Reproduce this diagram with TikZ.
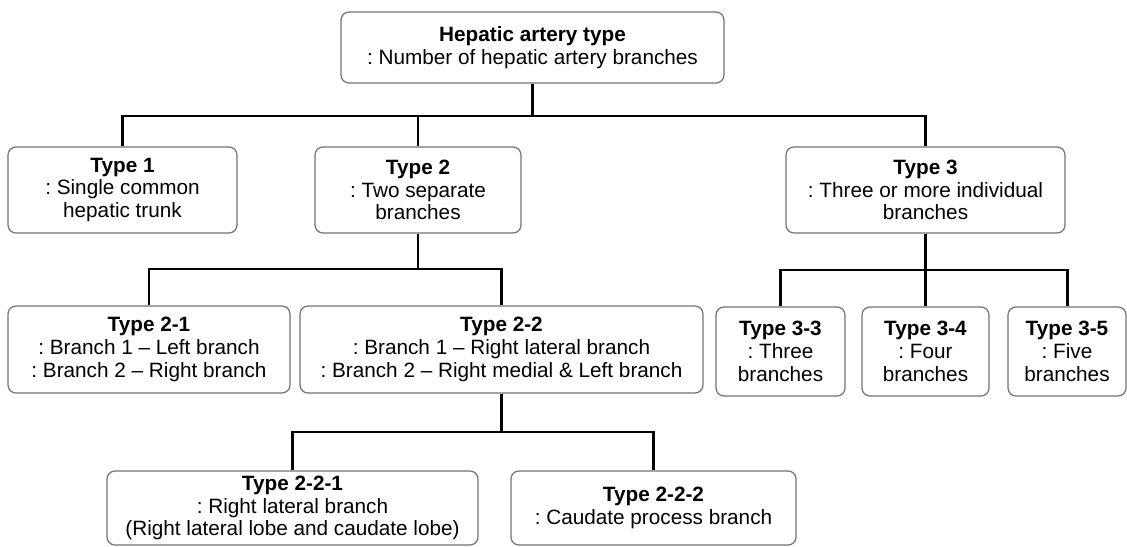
\documentclass[tikz,border=0pt]{standalone}
\usepackage{fontspec}
\setmainfont{Liberation Sans}
\frenchspacing
\usetikzlibrary{positioning}
\tikzset{
  tbox/.style={draw=black!55, line width=0.7pt, rectangle, rounded corners=4.5pt, align=center, font=\fontsize{11.8pt}{13pt}\selectfont, inner sep=2pt, fill=white},
  link/.style={line width=1.7pt, black},
}

\begin{document}
\begin{tikzpicture}[x=0.02cm, y=-0.02cm]
\useasboundingbox (0,0) rectangle (1127,547);
\node[tbox, minimum width=7.66cm, minimum height=1.42cm] (top) at (532.5,47.5) {\textbf{Hepatic artery type}\\: Number of hepatic artery branches};
\node[tbox, minimum width=4.58cm, minimum height=1.72cm] (t1) at (122.5,190) {\textbf{Type 1}\\: Single common\\hepatic trunk};
\node[tbox, minimum width=4.12cm, minimum height=1.72cm] (t2) at (418,190) {\textbf{Type 2}\\: Two separate\\branches};
\node[tbox, minimum width=5.58cm, minimum height=1.72cm] (t3) at (925.5,190) {\textbf{Type 3}\\: Three or more individual\\branches};
\node[tbox, minimum width=5.64cm, minimum height=1.74cm] (t21) at (149,349.5) {\textbf{Type 2-1}\\: Branch 1 -- Left branch\\: Branch 2 -- Right branch};
\node[tbox, minimum width=8.06cm, minimum height=1.74cm] (t22) at (501.5,349.5) {\textbf{Type 2-2}\\: Branch 1 -- Right lateral branch\\: Branch 2 -- Right medial \& Left branch};
\node[tbox, minimum width=2.58cm, minimum height=1.78cm] (t33) at (780.5,351.5) {\textbf{Type 3-3}\\: Three\\branches};
\node[tbox, minimum width=2.54cm, minimum height=1.78cm] (t34) at (925.5,351.5) {\textbf{Type 3-4}\\: Four\\branches};
\node[tbox, minimum width=2.36cm, minimum height=1.78cm] (t35) at (1067,351.5) {\textbf{Type 3-5}\\: Five\\branches};
\node[tbox, minimum width=7.42cm, minimum height=1.48cm] (t221) at (292.5,508) {\textbf{Type 2-2-1}\\: Right lateral branch\\(Right lateral lobe and caudate lobe)};
\node[tbox, minimum width=5.7cm, minimum height=1.48cm] (t222) at (653.5,508) {\textbf{Type 2-2-2}\\: Caudate process branch};
\coordinate (j0) at (top.south |- 0,116);
\coordinate (j2) at (t2.south |- 0,269);
\coordinate (j3) at (t3.south |- 0,270);
\coordinate (j22) at (t22.south |- 0,432);
\draw[link] (top.south) -- (j0) -| (t1.north);
\draw[link] (j0) -| (t2.north);
\draw[link] (j0) -| (t3.north);
\draw[link] (t2.south) -- (j2) -| (t21.north);
\draw[link] (j2) -| (t22.north);
\draw[link] (t3.south) -- (j3) -| (t33.north);
\draw[link] (j3) -| (t34.north);
\draw[link] (j3) -| (t35.north);
\draw[link] (t22.south) -- (j22) -| (t221.north);
\draw[link] (j22) -| (t222.north);
\end{tikzpicture}
\end{document}
